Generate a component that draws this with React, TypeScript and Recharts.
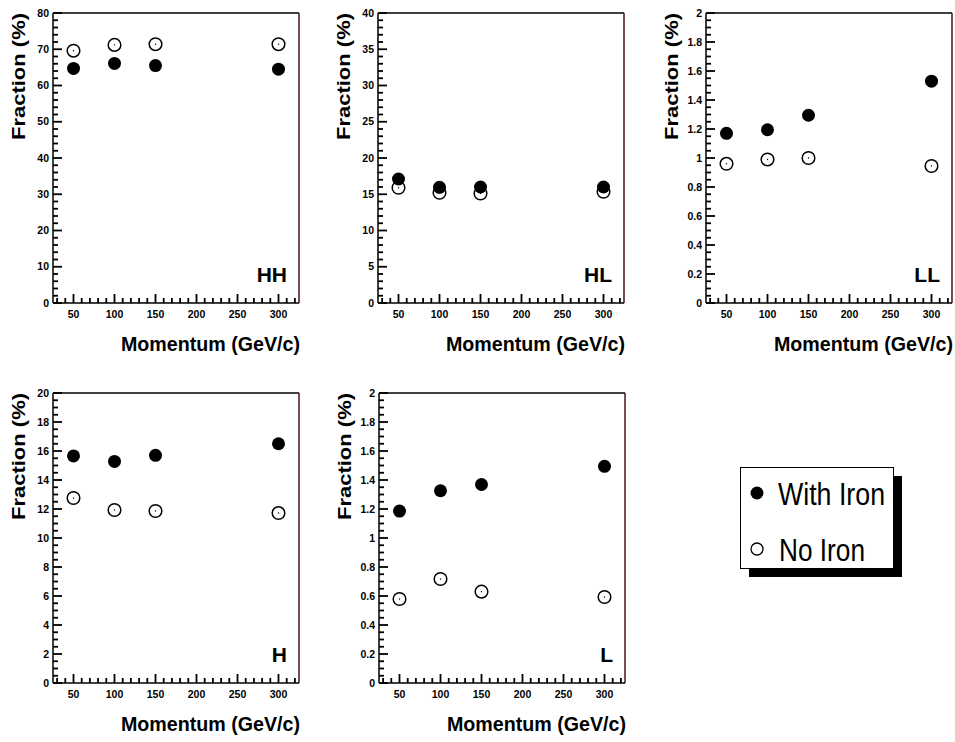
import React from "react";
import { ScatterChart, Scatter, XAxis, YAxis, ReferenceLine } from "recharts";

// ---- data ----
const momenta = [50, 100, 150, 300];
const xMajorTicks = [50, 100, 150, 200, 250, 300];

const hhWithIron = [64.7, 66.1, 65.5, 64.5];
const hhNoIron = [69.6, 71.2, 71.4, 71.4];
const hlWithIron = [17.1, 15.95, 16.0, 16.0];
const hlNoIron = [15.9, 15.2, 15.1, 15.35];
const llWithIron = [1.17, 1.195, 1.295, 1.53];
const llNoIron = [0.96, 0.99, 1.0, 0.945];
const hWithIron = [15.66, 15.28, 15.7, 16.5];
const hNoIron = [12.76, 11.93, 11.86, 11.72];
const lWithIron = [1.186, 1.326, 1.369, 1.494];
const lNoIron = [0.579, 0.717, 0.63, 0.593];

const panelNames = ["HH", "HL", "LL", "H", "L"];
const yMaxes = [80, 40, 2, 20, 2];
const yMajorSteps = [10, 5, 0.2, 2, 0.2];
const yMinorSteps = [2, 1, 0.05, 0.5, 0.05];
const withIronSeries = [hhWithIron, hlWithIron, llWithIron, hWithIron, lWithIron];
const noIronSeries = [hhNoIron, hlNoIron, llNoIron, hNoIron, lNoIron];

const xLabel = "Momentum (GeV/c)";
const yLabel = "Fraction (%)";
const legendLabels = ["With Iron", "No Iron"];

// ---- layout ----
const panelPos = [
  { left: 0, top: 0 },
  { left: 325, top: 0 },
  { left: 653, top: 0 },
  { left: 0, top: 380 },
  { left: 326, top: 380 },
];
const CW = 302;
const CH = 360;
const M_TOP = 13;
const M_RIGHT = 3;
const Y_W = 53;
const X_H = 57;
const PLOT_LEFT = Y_W;
const PLOT_RIGHT = CW - M_RIGHT;
const PLOT_TOP = M_TOP;
const PLOT_BOTTOM = CH - X_H;
const FONT = "'Liberation Sans', Arial, Helvetica, sans-serif";
const X_MIN = 25;
const X_MAX = 325;

const range = (start: number, end: number, step: number) => {
  const n = Math.round((end - start) / step);
  const out: number[] = [];
  for (let i = 0; i <= n; i++) out.push(+(start + i * step).toFixed(4));
  return out;
};
const xTicks = range(30, 320, 10);

const isMultiple = (v: number, step: number) => Math.abs(v / step - Math.round(v / step)) < 1e-6;
const fmt = (v: number) => String(+v.toFixed(3));

const XTick = (props: any) => {
  const { x, y, payload } = props;
  const v = payload.value;
  if (!xMajorTicks.includes(v)) return <g />;
  return (
    <text x={x} y={y + 14.5} textAnchor="middle" fontSize={10.5} fontWeight="bold" fill="#000" fontFamily={FONT}>
      {v}
    </text>
  );
};

const makeYTick = (majorStep: number) => (props: any) => {
  const { x, y, payload } = props;
  const v = payload.value;
  if (!isMultiple(v, majorStep)) return <g />;
  return (
    <text x={x - 4} y={y + 3.7} textAnchor="end" fontSize={10.5} fontWeight="bold" fill="#000" fontFamily={FONT}>
      {fmt(v)}
    </text>
  );
};

const FilledDot = (props: any) => <circle cx={props.cx} cy={props.cy} r={6.5} fill="#000" />;
const OpenDot = (props: any) => (
  <g>
    <circle cx={props.cx} cy={props.cy} r={6.3} fill="#fff" stroke="#000" strokeWidth={1.5} />
    <circle cx={props.cx} cy={props.cy} r={0.7} fill="#000" />
  </g>
);

function Panel({ idx }: { idx: number }) {
  const name = panelNames[idx];
  const yMax = yMaxes[idx];
  const yMajor = yMajorSteps[idx];
  const yTicks = range(0, yMax, yMinorSteps[idx]);
  const withData = momenta.map((m, i) => ({ x: m, y: withIronSeries[idx][i] }));
  const noData = momenta.map((m, i) => ({ x: m, y: noIronSeries[idx][i] }));
  const YTick = makeYTick(yMajor);
  const pos = panelPos[idx];
  const fbx = PLOT_LEFT - 28;
  const fby = PLOT_TOP;
  const sx = (v: number) => PLOT_LEFT + ((v - X_MIN) / (X_MAX - X_MIN)) * (PLOT_RIGHT - PLOT_LEFT);
  const sy = (v: number) => PLOT_BOTTOM - (v / yMax) * (PLOT_BOTTOM - PLOT_TOP);

  return (
    <div style={{ position: "absolute", left: pos.left, top: pos.top, width: CW, height: CH }}>
      <ScatterChart width={CW} height={CH} margin={{ top: M_TOP, right: M_RIGHT, bottom: 0, left: 0 }}>
        <XAxis
          type="number"
          dataKey="x"
          domain={[X_MIN, X_MAX]}
          allowDataOverflow
          ticks={xTicks}
          interval={0}
          tickSize={0}
          tickMargin={0}
          tickLine={false}
          tick={<XTick />}
          axisLine={{ stroke: "#000", strokeWidth: 1.5 }}
          height={X_H}
        />
        <YAxis
          type="number"
          dataKey="y"
          domain={[0, yMax]}
          allowDataOverflow
          ticks={yTicks}
          interval={0}
          tickSize={0}
          tickMargin={0}
          tickLine={false}
          tick={<YTick />}
          axisLine={{ stroke: "#000", strokeWidth: 1.5 }}
          width={Y_W}
        />
        <ReferenceLine y={yMax} stroke="#000" strokeWidth={1.5} />
        <ReferenceLine x={X_MAX} stroke="#4a1212" strokeWidth={1.5} />
        <Scatter name={legendLabels[1]} data={noData} shape={<OpenDot />} isAnimationActive={false} />
        <Scatter name={legendLabels[0]} data={withData} shape={<FilledDot />} isAnimationActive={false} />
      </ScatterChart>
      <svg width={CW} height={CH} style={{ position: "absolute", left: 0, top: 0, pointerEvents: "none" }}>
        {xTicks.map((v) => {
          const len = xMajorTicks.includes(v) ? 9 : 5;
          return <rect key={"xt" + v} x={sx(v) - 0.9} y={PLOT_BOTTOM - len} width={1.8} height={len} fill="#000" />;
        })}
        {yTicks.map((v) => {
          const len = isMultiple(v, yMajor) ? 9 : 5;
          return <rect key={"yt" + v} x={PLOT_LEFT} y={sy(v) - 0.9} width={len} height={1.8} fill="#000" />;
        })}
        <text
          x={PLOT_RIGHT + 1}
          y={PLOT_BOTTOM + 48}
          textAnchor="end"
          fontSize={20}
          fontWeight="bold"
          fill="#000"
          fontFamily={FONT}
          textLength={179}
          lengthAdjust="spacingAndGlyphs"
        >
          {xLabel}
        </text>
        <text x={PLOT_RIGHT - 12} y={PLOT_BOTTOM - 21} textAnchor="end" fontSize={21} fontWeight="bold" fill="#000" fontFamily={FONT}>
          {name}
        </text>
        <text
          x={fbx}
          y={fby}
          transform={`rotate(-90, ${fbx}, ${fby})`}
          textAnchor="end"
          fontSize={19}
          fontWeight="bold"
          fill="#000"
          fontFamily={FONT}
          textLength={127}
          lengthAdjust="spacingAndGlyphs"
        >
          {yLabel}
        </text>
      </svg>
    </div>
  );
}

function LegendBox() {
  return (
    <div style={{ position: "absolute", left: 740, top: 467 }}>
      <svg width={165} height={112} style={{ display: "block" }}>
        <rect x={9} y={9} width={153} height={101} fill="#000" />
        <rect x={0.5} y={0.5} width={153} height={101} fill="#fff" stroke="#000" strokeWidth={1} />
        <circle cx={17} cy={26} r={6.5} fill="#000" />
        <text x={38} y={38} fontSize={32} fill="#000" fontFamily={FONT} textLength={107} lengthAdjust="spacingAndGlyphs">
          {legendLabels[0]}
        </text>
        <circle cx={17} cy={82} r={6} fill="#fff" stroke="#000" strokeWidth={1.3} />
        <text x={39} y={94} fontSize={32} fill="#000" fontFamily={FONT} textLength={86} lengthAdjust="spacingAndGlyphs">
          {legendLabels[1]}
        </text>
      </svg>
    </div>
  );
}

export default function App() {
  return (
    <div style={{ position: "absolute", left: 0, top: 0, width: 955, height: 742, background: "#fff", overflow: "hidden" }}>
      {panelNames.map((_, i) => (
        <Panel key={i} idx={i} />
      ))}
      <LegendBox />
    </div>
  );
}
